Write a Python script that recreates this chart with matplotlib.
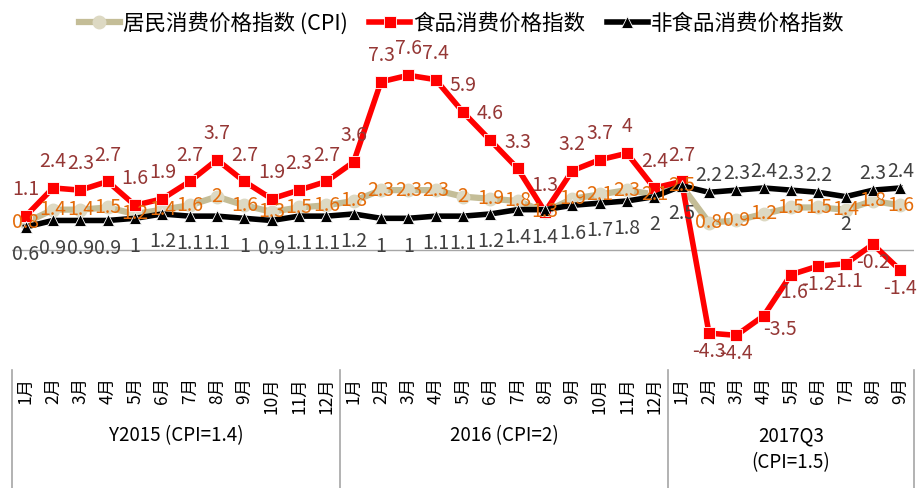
import matplotlib.pyplot as plt
import matplotlib.transforms as mtransforms

plt.rcParams['font.family'] = ['Noto Sans CJK SC', 'DejaVu Sans']

months = ['1月', '2月', '3月', '4月', '5月', '6月', '7月', '8月', '9月', '10月', '11月', '12月'] * 2 + \
         ['1月', '2月', '3月', '4月', '5月', '6月', '7月', '8月', '9月']
groups = ['Y2015 (CPI=1.4)', '2016 (CPI=2)', '2017Q3\n(CPI=1.5)']
group_sizes = [12, 12, 9]

cpi = [0.8, 1.4, 1.4, 1.5, 1.2, 1.4, 1.6, 2, 1.6, 1.3, 1.5, 1.6,
       1.8, 2.3, 2.3, 2.3, 2, 1.9, 1.8, 1.3, 1.9, 2.1, 2.3, 2.1,
       2.5, 0.8, 0.9, 1.2, 1.5, 1.5, 1.4, 1.8, 1.6]
food = [1.1, 2.4, 2.3, 2.7, 1.6, 1.9, 2.7, 3.7, 2.7, 1.9, 2.3, 2.7,
        3.6, 7.3, 7.6, 7.4, 5.9, 4.6, 3.3, 1.3, 3.2, 3.7, 4, 2.4,
        2.7, -4.3, -4.4, -3.5, -1.6, -1.2, -1.1, -0.2, -1.4]
nonfood = [0.6, 0.9, 0.9, 0.9, 1, 1.2, 1.1, 1.1, 1, 0.9, 1.1, 1.1,
           1.2, 1, 1, 1.1, 1.1, 1.2, 1.4, 1.4, 1.6, 1.7, 1.8, 2,
           2.5, 2.2, 2.3, 2.4, 2.3, 2.2, 2, 2.3, 2.4]

# label placement: food labels below the point, non-food labels above
food_below = [25, 26, 27, 28, 29, 30, 31, 32]
nonfood_above = [25, 26, 27, 28, 29, 31, 32]

x = list(range(len(cpi)))

fig = plt.figure(figsize=(9.18, 4.88), dpi=100)
ax = fig.add_axes([12 / 918, 118 / 488, 902 / 918, 340 / 488])
ax.set_xlim(-0.5, 32.5)
ax.set_ylim(-6.0, 9.69)
ax.axis('off')

ax.axhline(-0.45, color='#A6A6A6', lw=1, zorder=1)

ax.plot(x, cpi, color='#C4BD97', lw=4.5, marker='o', ms=9, mfc='#DDD9C3',
        mec='#DDD9C3', label='居民消费价格指数 (CPI)', zorder=2)
ax.plot(x, food, color='#FF0000', lw=4, marker='s', ms=8, mfc='#FF0000',
        mec='white', mew=0.6, label='食品消费价格指数', zorder=3)
ax.plot(x, nonfood, color='#000000', lw=4, marker='^', ms=8, mfc='#000000',
        mec='white', mew=0.6, label='非食品消费价格指数', zorder=4)

lab_fs = 14
for i in x:
    ax.annotate(f'{cpi[i]:g}', (i, cpi[i]), ha='center', va='center',
                color='#E46C0A', fontsize=lab_fs, zorder=6)
    if i in food_below:
        off = (12, -10) if i == 27 else (0, -13)
    else:
        off = (0, 19)
    ax.annotate(f'{food[i]:g}', (i, food[i]), xytext=off, textcoords='offset points',
                ha='center', va='center', color='#953735', fontsize=lab_fs, zorder=6)
    dy = 12 if i in nonfood_above else -20
    ax.annotate(f'{nonfood[i]:g}', (i, nonfood[i]), xytext=(0, dy), textcoords='offset points',
                ha='center', va='center', color='#404040', fontsize=lab_fs, zorder=6)

# category axis below the plot
blend = mtransforms.blended_transform_factory(ax.transData, fig.transFigure)
for i, m in enumerate(months):
    ax.text(i, 1 - 377 / 488, m, rotation=90, ha='center', va='top',
            fontsize=12.5, transform=blend)

start = 0
for g, n in zip(groups, group_sizes):
    ax.text(start + (n - 1) / 2, 1 - 425 / 488, g, ha='center', va='top',
            fontsize=13.5, linespacing=1.4, transform=blend)
    start += n

for b in [-0.5, 11.5, 23.5, 32.5]:
    ax.plot([b, b], [0, 118 / 488], color='#A6A6A6', lw=1.2,
            transform=blend, clip_on=False)

fig.legend(loc='upper center', bbox_to_anchor=(0.503, 1.015), ncol=3, frameon=False,
           fontsize=15.5, handlelength=1.9, handletextpad=0.15, columnspacing=1.0)

fig.savefig('out.png', dpi=100)
